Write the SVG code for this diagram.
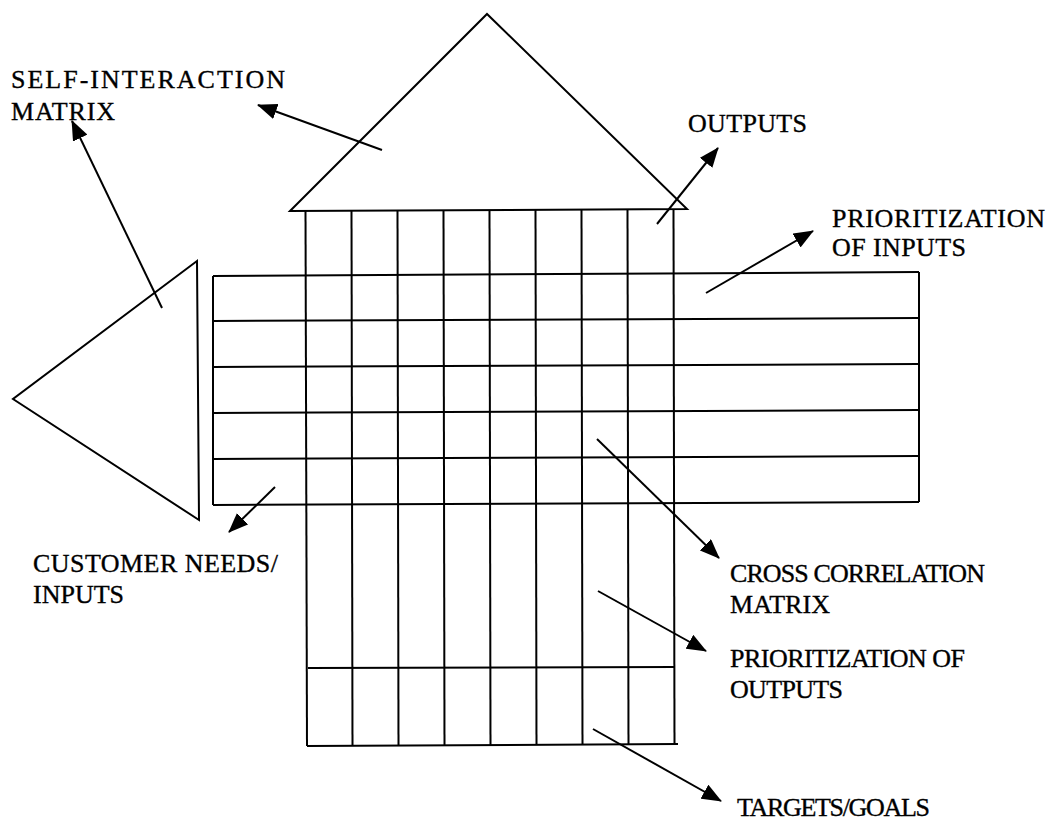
<svg xmlns="http://www.w3.org/2000/svg" width="1047" height="820" viewBox="0 0 1047 820">
<style>
.ln{stroke:#000;stroke-width:2;fill:none}
.sh{stroke:#000;stroke-width:2;fill:#fff;stroke-linejoin:miter}
.ar{stroke:#000;stroke-width:2;fill:none;marker-end:url(#ah)}
.tx{font-family:"Liberation Serif","Times New Roman",serif;font-size:26px;fill:#000;stroke:#000;stroke-width:0.35}
</style>
<defs>
<marker id="ah" viewBox="0 0 20 16" refX="19" refY="8" markerWidth="20" markerHeight="16" markerUnits="userSpaceOnUse" orient="auto">
<path d="M0,0 L20,8 L0,16 z" fill="#000"/>
</marker>
</defs>
<rect width="1047" height="820" fill="#fff"/>
<g id="self-interaction-triangle">
<polygon class="sh" points="290,211 487,14 687,209"/>
</g>
<g id="customer-triangle">
<polygon class="sh" points="197,261 13,399 199,520"/>
</g>
<g id="input-rows">
<line class="ln" x1="213" y1="276" x2="919" y2="272"/>
<line class="ln" x1="213" y1="321" x2="919" y2="318"/>
<line class="ln" x1="213" y1="367" x2="919" y2="364"/>
<line class="ln" x1="213" y1="413" x2="919" y2="410"/>
<line class="ln" x1="213" y1="459" x2="919" y2="456"/>
<line class="ln" x1="213" y1="505" x2="919" y2="502"/>
<line class="ln" x1="213" y1="276" x2="213" y2="505"/>
<line class="ln" x1="919" y1="272" x2="919" y2="502"/>
</g>
<g id="output-columns">
<line class="ln" x1="305.5" y1="210" x2="307" y2="746"/>
<line class="ln" x1="351.5" y1="210" x2="352.5" y2="746"/>
<line class="ln" x1="397.5" y1="210" x2="398.5" y2="746"/>
<line class="ln" x1="443.5" y1="210" x2="444.5" y2="746"/>
<line class="ln" x1="489.5" y1="210" x2="490.5" y2="745"/>
<line class="ln" x1="535.5" y1="210" x2="536.5" y2="745"/>
<line class="ln" x1="581.5" y1="210" x2="582.5" y2="745"/>
<line class="ln" x1="627.5" y1="210" x2="628.5" y2="745"/>
<line class="ln" x1="673.5" y1="210" x2="674.5" y2="744"/>
<line class="ln" x1="308" y1="668" x2="675" y2="667"/>
<line class="ln" x1="307" y1="746" x2="678" y2="744"/>
</g>
<g id="connectors">
<line class="ar" x1="382" y1="150" x2="258" y2="105"/>
<line class="ar" x1="162" y1="308" x2="72" y2="121"/>
<line class="ar" x1="657" y1="224" x2="718" y2="148"/>
<line class="ar" x1="706" y1="293" x2="813" y2="231"/>
<line class="ar" x1="275" y1="487" x2="229" y2="532"/>
<line class="ar" x1="597" y1="439" x2="719" y2="558"/>
<line class="ar" x1="598" y1="591" x2="706" y2="651"/>
<line class="ar" x1="593" y1="729" x2="721" y2="801"/>
</g>
<g id="labels">
<text class="tx" x="11" y="88" textLength="274" lengthAdjust="spacing">SELF-INTERACTION</text>
<text class="tx" x="11" y="120" textLength="104" lengthAdjust="spacing">MATRIX</text>
<text class="tx" x="688" y="132" textLength="119" lengthAdjust="spacing">OUTPUTS</text>
<text class="tx" x="832" y="227" textLength="213" lengthAdjust="spacing">PRIORITIZATION</text>
<text class="tx" x="832" y="256" textLength="134" lengthAdjust="spacing">OF INPUTS</text>
<text class="tx" x="33" y="572" textLength="245" lengthAdjust="spacing">CUSTOMER NEEDS/</text>
<text class="tx" x="33" y="603" textLength="91" lengthAdjust="spacing">INPUTS</text>
<text class="tx" x="730" y="582" textLength="255" lengthAdjust="spacing">CROSS CORRELATION</text>
<text class="tx" x="730" y="613" textLength="100" lengthAdjust="spacing">MATRIX</text>
<text class="tx" x="730" y="667" textLength="235" lengthAdjust="spacing">PRIORITIZATION OF</text>
<text class="tx" x="730" y="698" textLength="113" lengthAdjust="spacing">OUTPUTS</text>
<text class="tx" x="737" y="816" textLength="193" lengthAdjust="spacing">TARGETS/GOALS</text>
</g>
</svg>
